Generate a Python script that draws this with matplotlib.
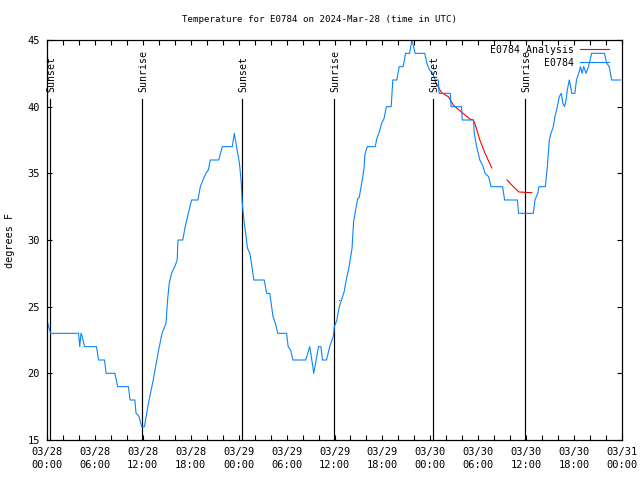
import numpy as np
import matplotlib
matplotlib.use('Agg')
import matplotlib.pyplot as plt

plt.rcParams['font.family'] = 'DejaVu Sans Mono'
plt.rcParams['font.size'] = 7.5

# observed temperature, hours since 03/28 00:00 UTC
obs_hours = [0.0, 0.2, 0.45, 3.95, 4.1, 4.25, 4.4, 4.7, 6.2, 6.45, 7.2, 7.4, 8.5, 8.85,
             10.2, 10.4, 11.0, 11.15, 11.5, 11.85, 12.2, 12.7, 13.3, 13.6, 13.9, 14.4,
             14.9, 15.1, 15.3, 15.6, 16.0, 16.3, 16.4, 17.0, 17.3, 17.7, 18.1, 18.9,
             19.2, 19.6, 19.9, 20.2, 20.45, 21.5, 21.95, 23.2, 23.45, 23.67, 23.8, 24.1,
             24.3, 24.45, 24.7, 24.9, 25.1, 25.4, 25.6, 25.9, 27.2, 27.5, 27.9, 28.3,
             28.6, 28.9, 30.0, 30.2, 30.5, 30.8, 32.4, 32.9, 33.1, 33.4, 33.7, 34.0,
             34.3, 34.5, 35.0, 35.4, 35.85, 35.98, 36.3, 36.6, 37.0, 37.2, 37.5, 37.8,
             38.2, 38.3, 38.4, 38.7, 38.9, 39.1, 39.3, 39.5, 39.7, 39.8, 40.1, 41.1,
             41.3, 41.6, 41.9, 42.2, 42.5, 43.1, 43.3, 43.8, 44.1, 44.6, 44.9, 45.4,
             45.7, 45.9, 46.1, 47.3, 47.6, 47.9, 48.3, 48.6, 49.0, 49.1, 50.5, 50.6,
             51.9, 52.0, 53.4, 53.5, 53.8, 54.2, 54.55, 54.85, 55.3, 55.6, 57.05, 57.3,
             58.9, 59.05, 60.9, 61.1, 61.45, 61.6, 62.4, 62.65, 62.9, 63.1, 63.4, 63.6,
             63.9, 64.15, 64.4, 64.6, 64.8, 65.0, 65.15, 65.4, 65.6, 65.7, 66.1, 66.3,
             66.7, 66.8, 67.0, 67.2, 67.5, 67.8, 68.2, 69.8, 70.1, 70.4, 70.7, 71.8]
obs_temp = [24.0, 23.5, 23.0, 23.0, 22.0, 23.0, 22.8, 22.0, 22.0, 21.0, 21.0, 20.0, 20.0, 19.0,
            19.0, 18.0, 18.0, 17.0, 16.8, 16.0, 16.0, 17.75, 19.5, 20.5, 21.5, 23.0,
            23.75, 25.5, 26.75, 27.5, 28.0, 28.5, 30.0, 30.0, 31.0, 32.0, 33.0, 33.0,
            34.0, 34.6, 35.0, 35.25, 36.0, 36.0, 37.0, 37.0, 38.0, 37.25, 36.75, 35.75,
            34.5, 32.75, 31.25, 30.4, 29.4, 29.0, 28.25, 27.0, 27.0, 26.0, 26.0, 24.25,
            23.75, 23.0, 23.0, 22.0, 21.75, 21.0, 21.0, 22.0, 21.25, 20.0, 21.0, 22.0,
            22.0, 21.0, 21.0, 22.0, 22.75, 23.5, 24.0, 25.0, 25.75, 26.1, 27.1, 27.9,
            29.4, 30.5, 31.4, 32.4, 33.1, 33.2, 33.9, 34.6, 35.4, 36.4, 37.0, 37.0,
            37.6, 38.1, 38.75, 39.1, 40.0, 40.0, 42.0, 42.0, 43.0, 43.0, 44.0, 44.0,
            45.0, 44.5, 44.0, 44.0, 43.2, 42.75, 42.5, 42.0, 42.0, 41.0, 41.0, 40.0,
            40.0, 39.0, 39.0, 38.0, 37.0, 36.0, 35.6, 35.0, 34.75, 34.0, 34.0, 33.0,
            33.0, 32.0, 32.0, 33.0, 33.5, 34.0, 34.0, 35.5, 37.5, 38.0, 38.5, 39.25,
            40.0, 40.75, 41.0, 40.25, 40.0, 40.5, 41.25, 42.0, 41.4, 41.0, 41.0, 42.0,
            42.75, 43.0, 42.5, 43.0, 42.5, 43.0, 44.0, 44.0, 43.25, 43.0, 42.0, 42.0]

# analysis temperature (gap = missing)
ana_hours = [48.6, 49.4, 50.25, 50.9, 51.9, 53.0, 53.4, 53.7, 54.2, 54.85, 55.7, np.nan,
             57.6, 58.4, 59.1, 60.7]
ana_temp = [41.9, 41.05, 40.75, 40.1, 39.6, 39.05, 39.0, 38.5, 37.5, 36.5, 35.4, np.nan,
            34.5, 34.0, 33.6, 33.55]
ana_dot_hours = [36.6]
ana_dot_temp = [25.5]

# sunrise / sunset (hours since 03/28 00:00)
event_hours = [0.42, 11.93, 24.46, 35.98, 48.38, 59.9]
event_names = ['Sunset', 'Sunrise', 'Sunset', 'Sunrise', 'Sunset', 'Sunrise']

tick_hours = list(range(0, 73, 6))
tick_labels = ['03/28\n00:00', '03/28\n06:00', '03/28\n12:00', '03/28\n18:00',
               '03/29\n00:00', '03/29\n06:00', '03/29\n12:00', '03/29\n18:00',
               '03/30\n00:00', '03/30\n06:00', '03/30\n12:00', '03/30\n18:00',
               '03/31\n00:00']

blue = '#0a84ff'

fig = plt.figure(figsize=(6.4, 4.8), dpi=100)
ax = fig.add_axes([47 / 640, 40 / 480, 575 / 640, 400 / 480])

for h, name in zip(event_hours, event_names):
    ax.axvline(h, ymin=0, ymax=0.8525, color='black', lw=0.85)
    ax.text(h + 0.15, 41.1, name, rotation=90, ha='center', va='bottom', fontsize=7.1)

ax.plot(ana_hours, ana_temp, color='red', lw=0.8, label='E0784 Analysis')
ax.plot(ana_dot_hours, ana_dot_temp, 's', color='red', ms=0.8, mew=0)
ax.plot(obs_hours, obs_temp, color=blue, lw=0.8, label='E0784')

ax.set_xlim(0, 72)
ax.set_ylim(15, 45)
ax.set_xticks(tick_hours)
ax.set_xticklabels(tick_labels, linespacing=1.4)
ax.set_xticks(range(0, 73, 2), minor=True)
ax.set_yticks(range(15, 46, 5))
ax.tick_params(which='both', direction='in', top=True, right=True, length=3.5, width=0.8)
ax.tick_params(axis='x', pad=5)
ax.tick_params(axis='y', pad=5)
for s in ax.spines.values():
    s.set_linewidth(0.9)

ax.legend(loc='upper right', bbox_to_anchor=(0.977, 0.988), frameon=False,
          markerfirst=False, handlelength=2.9, handletextpad=0.6, fontsize=7.1,
          labelspacing=0.3, borderaxespad=0, borderpad=0)

fig.text(0.5, 1 - 20 / 480, 'Temperature for E0784 on 2024-Mar-28 (time in UTC)',
         ha='center', va='center', fontsize=6.6)
fig.text(10 / 640, 0.5, 'degrees F', rotation=90, ha='center', va='center', fontsize=7.3)

fig.savefig('out.png', dpi=100)
